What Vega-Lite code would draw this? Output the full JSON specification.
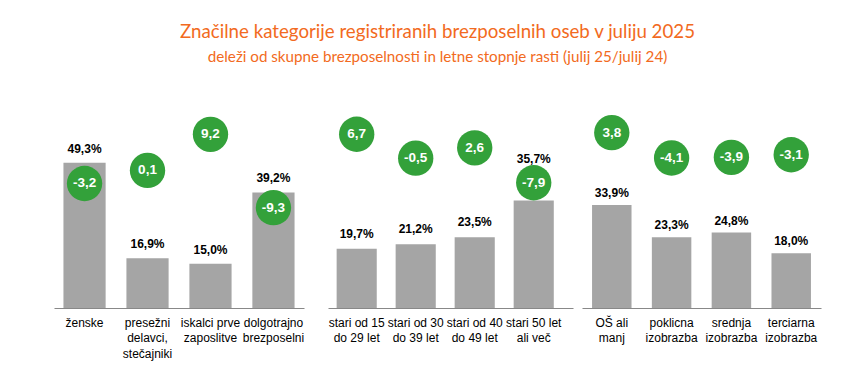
{
  "$schema": "https://vega.github.io/schema/vega-lite/v6.json",
  "padding": {"left": 54, "top": 23, "right": 5, "bottom": 5},
  "background": "white",
  "config": {
    "view": {"stroke": null},
    "axis": {"labelFont": "Liberation Sans", "labelFontSize": 12, "labelColor": "#000000"},
    "text": {"font": "Liberation Sans"}
  },
  "title": {
    "text": "Značilne kategorije registriranih brezposelnih oseb v juliju 2025",
    "subtitle": "deleži od skupne brezposelnosti in letne stopnje rasti (julij 25/julij 24)",
    "anchor": "middle",
    "font": "Lato",
    "fontSize": 18.7,
    "fontWeight": "normal",
    "color": "#f26a21",
    "subtitleFont": "Lato",
    "subtitleFontSize": 15.2,
    "subtitleColor": "#f26a21",
    "subtitlePadding": 8,
    "offset": 36
  },
  "datasets": {
    "p1": [
      {"cat": "ženske", "share": 49.3, "growth": -3.2},
      {"cat": "presežni|delavci,|stečajniki", "share": 16.9, "growth": 0.1},
      {"cat": "iskalci prve|zaposlitve", "share": 15.0, "growth": 9.2},
      {"cat": "dolgotrajno|brezposelni", "share": 39.2, "growth": -9.3}
    ],
    "p2": [
      {"cat": "stari od 15|do 29 let", "share": 19.7, "growth": 6.7},
      {"cat": "stari od 30|do 39 let", "share": 21.2, "growth": -0.5},
      {"cat": "stari od 40|do 49 let", "share": 23.5, "growth": 2.6},
      {"cat": "stari 50 let|ali več", "share": 35.7, "growth": -7.9}
    ],
    "p3": [
      {"cat": "OŠ ali|manj", "share": 33.9, "growth": 3.8},
      {"cat": "poklicna|izobrazba", "share": 23.3, "growth": -4.1},
      {"cat": "srednja|izobrazba", "share": 24.8, "growth": -3.9},
      {"cat": "terciarna|izobrazba", "share": 18.0, "growth": -3.1}
    ]
  },
  "bounds": "flush",
  "spacing": 24,
  "hconcat": [
    {
      "width": 250,
      "height": 207,
      "data": {"name": "p1"},
      "transform": [
        {"calculate": "replace(format(datum.share, '.1f'), '.', ',') + '%'", "as": "shareLabel"},
        {"calculate": "replace(toString(datum.growth), '.', ',')", "as": "growthLabel"}
      ],
      "encoding": {
        "x": {
          "field": "cat", "type": "nominal", "sort": null, "title": null,
          "scale": {"paddingInner": 0.33, "paddingOuter": 0.15},
          "axis": {"labelExpr": "split(datum.label, '|')", "labelAngle": 0, "labelLineHeight": 15.5, "labelPadding": 9, "ticks": false, "domainColor": "#888888", "domainWidth": 1.2, "labelOverlap": false, "labelLimit": 200}
        }
      },
      "layer": [
        {"mark": {"type": "bar", "color": "#a5a5a5"},
         "encoding": {"y": {"field": "share", "type": "quantitative", "scale": {"domain": [0, 70.2]}, "axis": null}}},
        {"mark": {"type": "circle", "size": 1250, "color": "#33a13a", "opacity": 1},
         "encoding": {"y": {"field": "growth", "type": "quantitative", "scale": {"domain": [-34.6, 17.6]}, "axis": null}}},
        {"mark": {"type": "text", "color": "white", "fontWeight": "bold", "fontSize": 13.5},
         "encoding": {"y": {"field": "growth", "type": "quantitative", "scale": {"domain": [-34.6, 17.6]}, "axis": null}, "text": {"field": "growthLabel"}}},
        {"mark": {"type": "text", "color": "#000000", "fontWeight": "bold", "fontSize": 12, "dy": -14},
         "encoding": {"y": {"field": "share", "type": "quantitative", "scale": {"domain": [0, 70.2]}, "axis": null}, "text": {"field": "shareLabel"}}}
      ],
      "resolve": {"scale": {"y": "independent"}}
    },
    {
      "bounds": "flush",
      "spacing": 9,
      "hconcat": [
        {
          "width": 245,
          "height": 207,
          "data": {"name": "p2"},
          "transform": [
            {"calculate": "replace(format(datum.share, '.1f'), '.', ',') + '%'", "as": "shareLabel"},
            {"calculate": "replace(toString(datum.growth), '.', ',')", "as": "growthLabel"}
          ],
          "encoding": {
            "x": {
              "field": "cat", "type": "nominal", "sort": null, "title": null,
              "scale": {"paddingInner": 0.32, "paddingOuter": 0.236, "align": 0.31},
              "axis": {"labelExpr": "split(datum.label, '|')", "labelAngle": 0, "labelLineHeight": 15.5, "labelPadding": 9, "ticks": false, "domainColor": "#888888", "domainWidth": 1.2, "labelOverlap": false, "labelLimit": 200}
            }
          },
          "layer": [
            {"mark": {"type": "bar", "color": "#a5a5a5"},
             "encoding": {"y": {"field": "share", "type": "quantitative", "scale": {"domain": [0, 68.8]}, "axis": null}}},
            {"mark": {"type": "circle", "size": 1250, "color": "#33a13a", "opacity": 1},
             "encoding": {"y": {"field": "growth", "type": "quantitative", "scale": {"domain": [-45.6, 16.7]}, "axis": null}}},
            {"mark": {"type": "text", "color": "white", "fontWeight": "bold", "fontSize": 13.5},
             "encoding": {"y": {"field": "growth", "type": "quantitative", "scale": {"domain": [-45.6, 16.7]}, "axis": null}, "text": {"field": "growthLabel"}}},
            {"transform": [{"filter": "datum.share < 30"}],
             "mark": {"type": "text", "color": "#000000", "fontWeight": "bold", "fontSize": 12, "dy": -15},
             "encoding": {"y": {"field": "share", "type": "quantitative", "scale": {"domain": [0, 68.8]}, "axis": null}, "text": {"field": "shareLabel"}}},
            {"transform": [{"filter": "datum.share >= 30"}],
             "mark": {"type": "text", "color": "#000000", "fontWeight": "bold", "fontSize": 12, "dy": -42},
             "encoding": {"y": {"field": "share", "type": "quantitative", "scale": {"domain": [0, 68.8]}, "axis": null}, "text": {"field": "shareLabel"}}}
          ],
          "resolve": {"scale": {"y": "independent"}}
        },
        {
          "width": 239,
          "height": 207,
          "data": {"name": "p3"},
          "transform": [
            {"calculate": "replace(format(datum.share, '.1f'), '.', ',') + '%'", "as": "shareLabel"},
            {"calculate": "replace(toString(datum.growth), '.', ',')", "as": "growthLabel"}
          ],
          "encoding": {
            "x": {
              "field": "cat", "type": "nominal", "sort": null, "title": null,
              "scale": {"paddingInner": 0.34, "paddingOuter": 0.168},
              "axis": {"labelExpr": "split(datum.label, '|')", "labelAngle": 0, "labelLineHeight": 15.5, "labelPadding": 9, "ticks": false, "domainColor": "#888888", "domainWidth": 1.2, "labelOverlap": false, "labelLimit": 200}
            }
          },
          "layer": [
            {"mark": {"type": "bar", "color": "#a5a5a5"},
             "encoding": {"y": {"field": "share", "type": "quantitative", "scale": {"domain": [0, 68.1]}, "axis": null}}},
            {"mark": {"type": "circle", "size": 1250, "color": "#33a13a", "opacity": 1},
             "encoding": {"y": {"field": "growth", "type": "quantitative", "scale": {"domain": [-51, 13.7]}, "axis": null}}},
            {"mark": {"type": "text", "color": "white", "fontWeight": "bold", "fontSize": 13.5},
             "encoding": {"y": {"field": "growth", "type": "quantitative", "scale": {"domain": [-51, 13.7]}, "axis": null}, "text": {"field": "growthLabel"}}},
            {"mark": {"type": "text", "color": "#000000", "fontWeight": "bold", "fontSize": 12, "dy": -12},
             "encoding": {"y": {"field": "share", "type": "quantitative", "scale": {"domain": [0, 68.1]}, "axis": null}, "text": {"field": "shareLabel"}}}
          ],
          "resolve": {"scale": {"y": "independent"}}
        }
      ]
    }
  ]
}
